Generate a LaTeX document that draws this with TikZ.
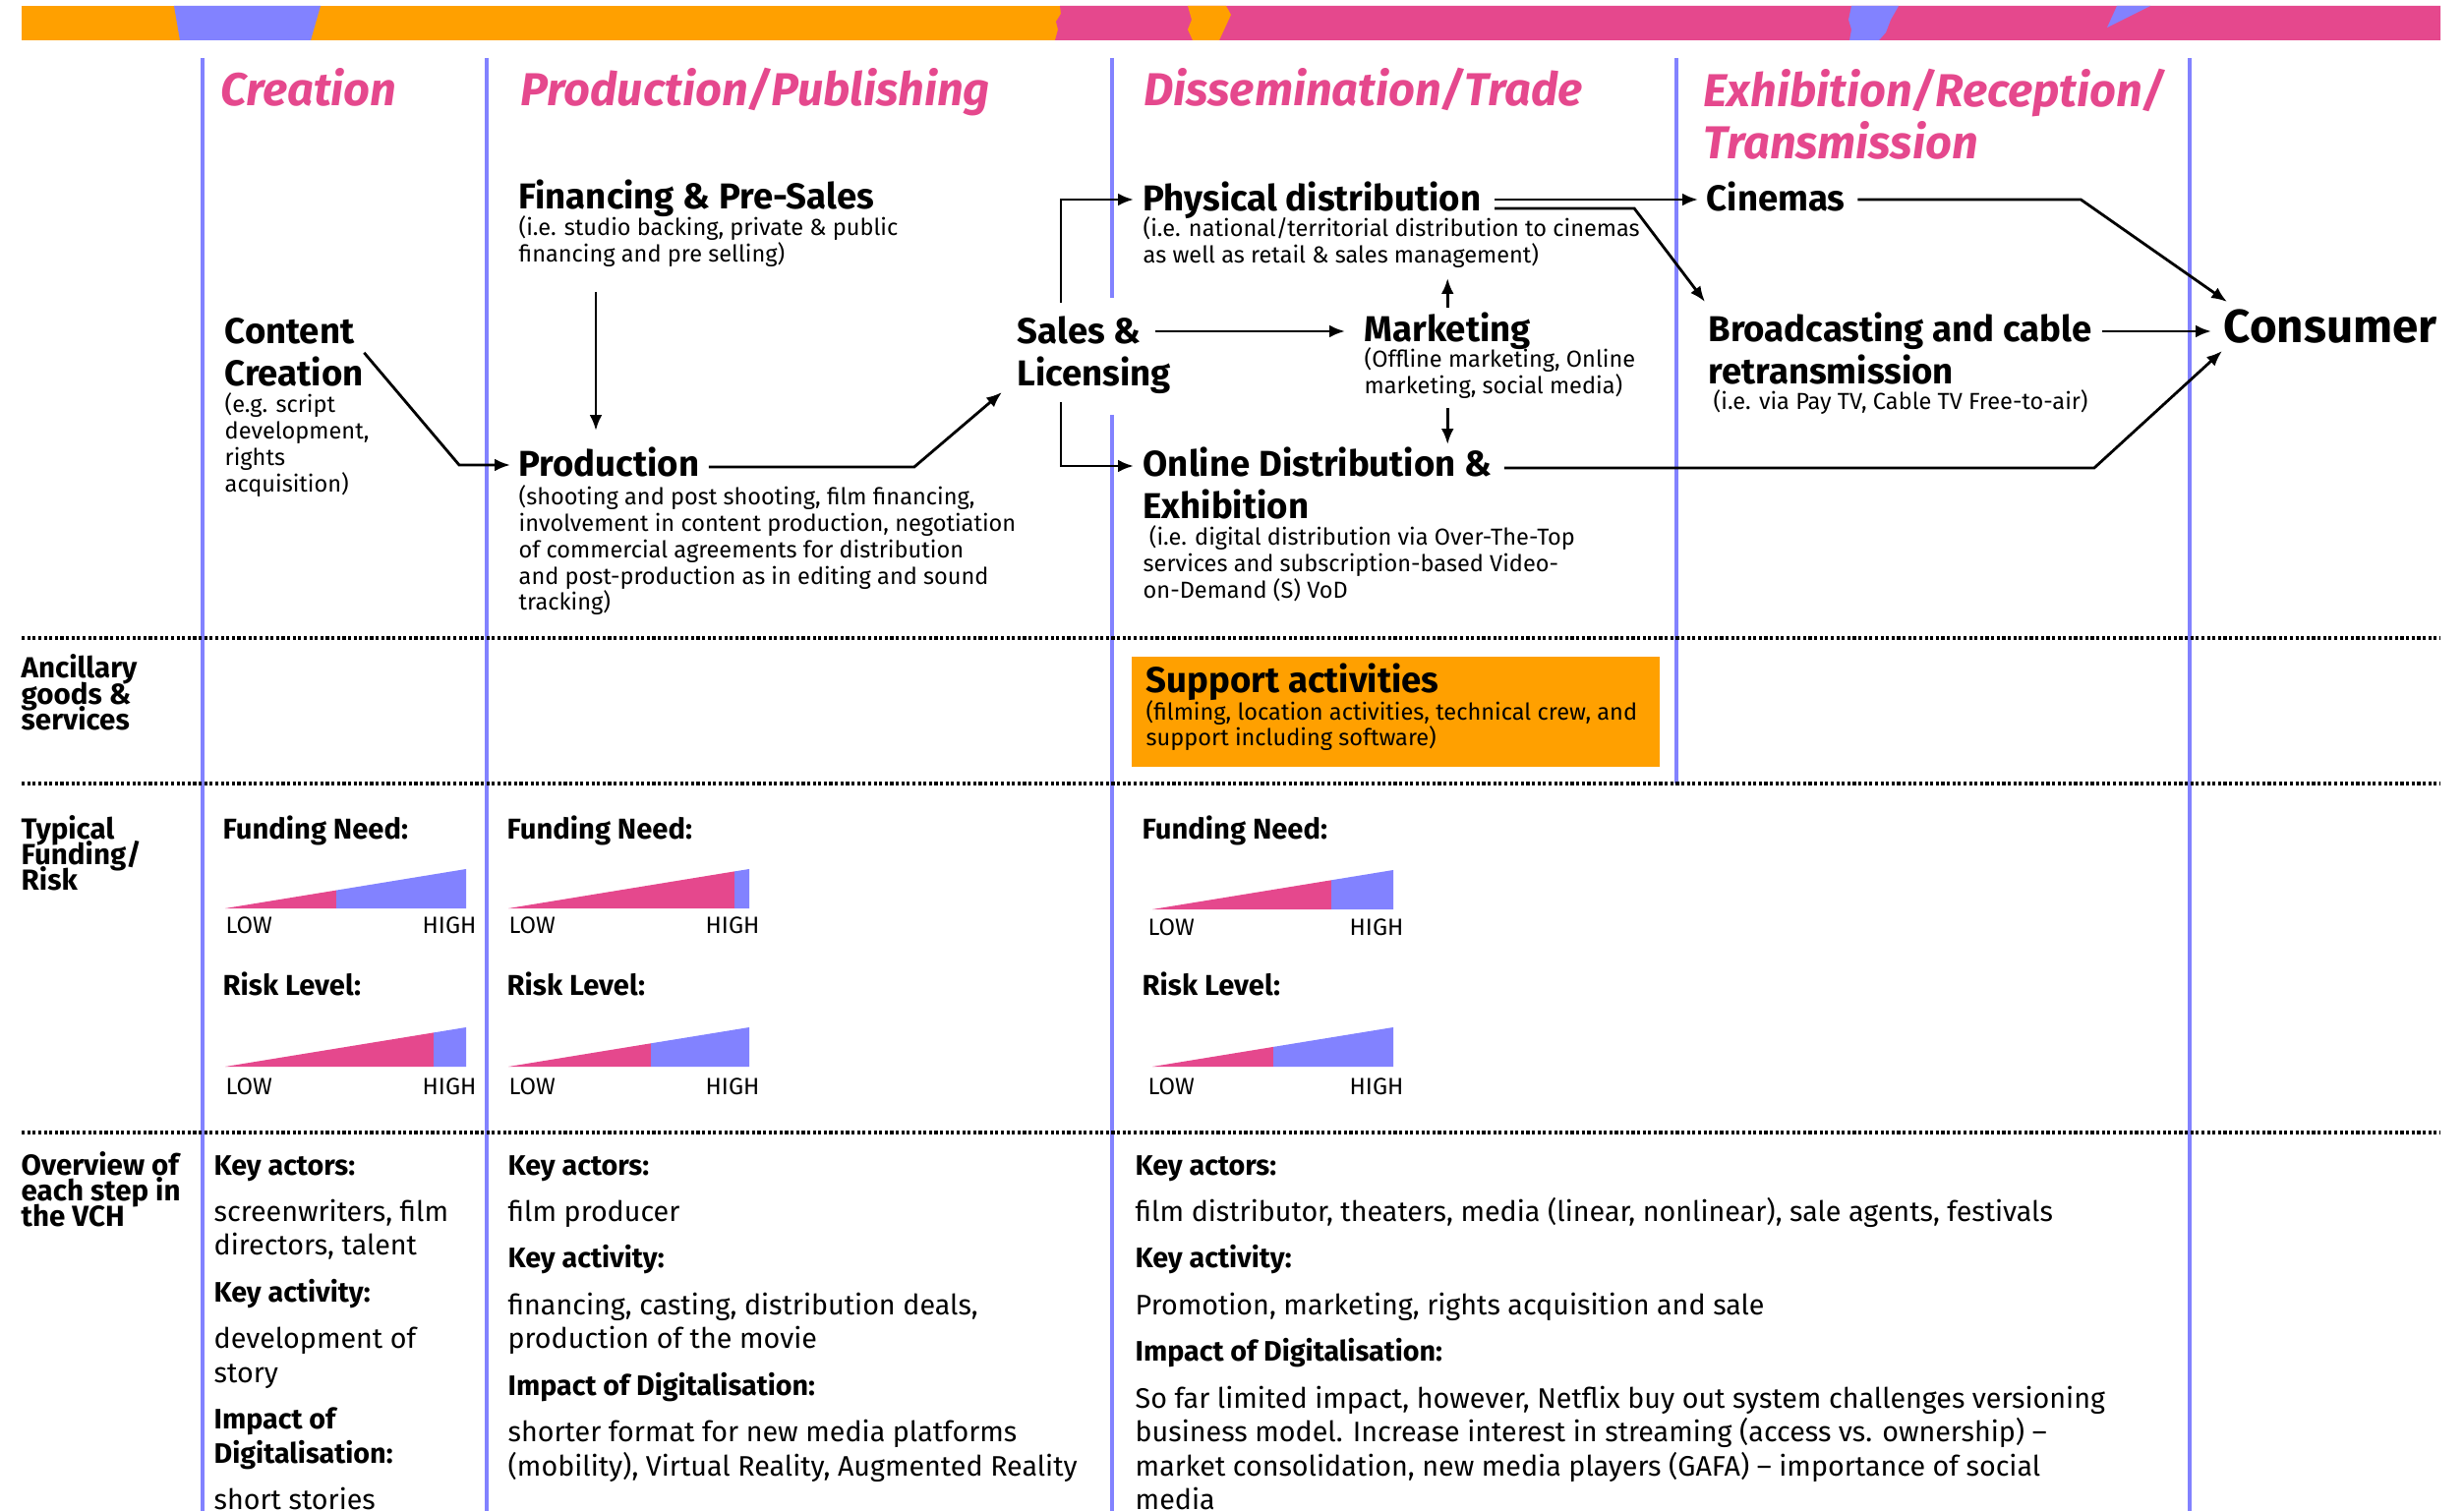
\documentclass[tikz,border=0pt]{standalone}
\usepackage{fontspec}
\setmainfont{Fira Sans}
\usepackage{tikz}
\usetikzlibrary{arrows.meta, calc}

\definecolor{vchpink}{RGB}{229,72,141}
\definecolor{vchblue}{RGB}{130,130,255}
\definecolor{vchorange}{RGB}{255,160,0}

% lines of a block, baseline on the first line
\newcommand{\lines}[1]{\vtop{\lineskiplimit=-\maxdimen\def\\{\cr}%
  \def\nextblock{\cr\noalign{\vskip3.7pt}}\halign{##\hfil\cr#1\crcr}}}

\begin{document}
\begin{tikzpicture}[x=0.01cm, y=-0.01cm,
  every node/.style={inner sep=0pt, anchor=base west},
  stagehead/.style={text=vchpink, font=\fontsize{13.35}{14.8}\selectfont\bfseries\itshape},
  steptitle/.style={font=\fontsize{10.4}{12.2}\selectfont\bfseries},
  stepnote/.style={font=\fontsize{6.7}{7.6}\selectfont},
  rowhead/.style={font=\fontsize{8.4}{7.5}\selectfont\bfseries},
  gaugehead/.style={font=\fontsize{8.3}{9}\selectfont\bfseries},
  gaugetick/.style={font=\fontsize{6.8}{8}\selectfont},
  overview/.style={font=\fontsize{8.15}{9.8}\selectfont},
  divider/.style={vchblue, line width=1.3pt},
  rowsep/.style={line width=1pt, dash pattern=on 0.9pt off 0.7pt},
  flowarrow/.style={-{Latex[length=4.5pt,width=3.6pt]}, line width=0.8pt},
]
  \useasboundingbox (0,0) rectangle (2506,1537);

  % colour band
  \fill[vchorange] (22,6) rectangle (2482,41);
  \fill[vchblue] (177,6) -- (326,6) -- (316,41) -- (183,41) -- cycle;
  \fill[vchpink] (1078,6) -- (2482,6) -- (2482,41) -- (1073,41) -- (1076,30) -- (1074,22) -- (1079,14) -- cycle;
  \fill[vchorange] (1208,6) -- (1247,6) -- (1252,15) -- (1246,28) -- (1240,41) -- (1213,41) -- (1208,30) -- (1212,20) -- cycle;
  \fill[vchblue] (1883,6) -- (1931,6) -- (1923,20) -- (1918,33) -- (1911,41) -- (1881,41) -- (1883,30) -- (1880,20) -- cycle;
  \fill[vchblue] (2153,6) -- (2187,6) -- (2143,28) -- cycle;

  % column and row rules
  \draw[divider] (206,59) -- (206,1537);
  \draw[divider] (495,59) -- (495,1537);
  \draw[divider] (1131,59) -- (1131,303);
  \draw[divider] (1131,422) -- (1131,1537);
  \draw[divider] (1705,59) -- (1705,797);
  \draw[divider] (2227,59) -- (2227,1537);
  \draw[rowsep] (22,649) -- (2482,649);
  \draw[rowsep] (22,797) -- (2482,797);
  \draw[rowsep] (22,1152) -- (2482,1152);

  % stages
  \node[stagehead] (hcre) at (224,108) {Creation};
  \node[stagehead] (hprod) at (529,108) {Production/Publishing};
  \node[stagehead] (hdiss) at (1163,108) {Dissemination/Trade};
  \node[stagehead] (hexh) at (1732,109) {\lines{Exhibition/Reception/\\Transmission}};

  % value chain
  \node[steptitle] (cc) at (228,350) {\lines{Content\\Creation}};
  \node[stepnote] (ccsub) at ($(cc.base west)+(0,70)$) {\lines{(e.g. script\\development,\\rights\\acquisition)}};
  \node[steptitle] (fin) at (527,213) {Financing \& Pre-Sales};
  \node[stepnote] (finsub) at ($(fin.base west)+(0,27)$) {\lines{(i.e. studio backing, private \& public\\financing and pre selling)}};
  \node[steptitle] (prod) at (527,485) {Production};
  \node[stepnote] (prodsub) at ($(prod.base west)+(0,29)$) {\lines{(shooting and post shooting, film financing,\\involvement in content production, negotiation\\of commercial agreements for distribution\\and post-production as in editing and sound\\tracking)}};
  \node[steptitle] (sales) at (1034,350) {\lines{Sales \&\\Licensing}};
  \node[steptitle] (phys) at (1162,215) {Physical distribution};
  \node[stepnote] (physsub) at ($(phys.base west)+(0,26)$) {\lines{(i.e. national/territorial distribution to cinemas\\as well as retail \& sales management)}};
  \node[steptitle] (mkt) at (1387,348) {Marketing};
  \node[stepnote] (mktsub) at ($(mkt.base west)+(0,26)$) {\lines{(Offline marketing, Online\\marketing, social media)}};
  \node[steptitle] (online) at (1162,485) {\lines{Online Distribution \&\\Exhibition}};
  \node[stepnote] (onlinesub) at ($(online.base west)+(0,70)$) {\lines{\ (i.e. digital distribution via Over-The-Top\\services and subscription-based Video-\\on-Demand (S) VoD}};
  \node[steptitle] (cin) at (1735,215) {Cinemas};
  \node[steptitle] (bro) at (1737,348) {\lines{Broadcasting and cable\\retransmission}};
  \node[stepnote] (brosub) at ($(bro.base west)+(5,69)$) {(i.e. via Pay TV, Cable TV Free-to-air)};
  \node[steptitle, font=\fontsize{13.5}{14}\selectfont\bfseries] (cons) at (2261,349) {Consumer};

  \draw[flowarrow] (cc.east) -- ($(prod.base west)+(-60,-12)$) -- ($(prod.base west)+(-8,-12)$);
  \draw[flowarrow] ($(finsub.base west)+(79,57)$) -- ($(prod.base west)+(79,-47)$);
  \draw[flowarrow] ($(prod.base east)+(9,-10)$) -- ($(prod.base east)+(218,-10)$) -- ($(sales.base west)+(-15,49)$);
  \draw[flowarrow] ($(sales.base west)+(45,-42)$) |- ($(phys.base west)+(-9,-12)$);
  \draw[flowarrow] ($(sales.base west)+(45,59)$) |- ($(online.base west)+(-9,-11)$);
  \draw[flowarrow] ($(sales.base east)+(-17,-13)$) -- ($(mkt.base west)+(-19,-11)$);
  \draw[flowarrow] ($(mkt.base)+(0,-35)$) -- ($(mkt.base |- physsub.base)+(0,42)$);
  \draw[flowarrow] ($(mkt.base |- mktsub.base)+(0,41)$) -- ($(mkt.base |- online.base)+(0,-33)$);
  \draw[flowarrow] ($(phys.base east)+(13,-12)$) -- ($(cin.base west)+(-8,-12)$);
  \draw[flowarrow] ($(phys.base east)+(13,-3)$) -- ($(phys.base east)+(155,-3)$) -- ($(bro.base west)+(-3,-41)$);
  \draw[flowarrow] ($(online.base east)+(12,-9)$) -- ($(online.base east)+(612,-9)$) -- ($(cons.base west)+(-1,8)$);
  \draw[flowarrow] ($(cin.base east)+(12,-12)$) -- ($(cin.base east)+(239,-12)$) -- ($(cons.base west)+(4,-42)$);
  \draw[flowarrow] ($(bro.base east)+(10,-11)$) -- ($(cons.base west)+(-12,-12)$);

  % ancillary goods
  \node[rowhead] (rowanc) at (21,690) {\lines{Ancillary\\goods \&\\services}};
  \fill[vchorange] (1151,668) rectangle (1688,780);
  \node[steptitle] (supp) at (1165,705) {Support activities};
  \node[stepnote] (suppsub) at ($(supp.base west)+(0,27)$) {\lines{(filming, location activities, technical crew, and\\support including software)}};

  % funding and risk
  \node[rowhead] (rowfund) at (21,853) {\lines{Typical\\Funding/\\Risk}};
  \node[gaugehead] (fund1) at (226,853) {Funding Need:};
  \begin{scope}[shift={(229,924)}]
    \fill[vchpink] (0,0) -- (113,0) -- (113,-18.4) -- cycle;
    \fill[vchblue] (113,0) -- (245,0) -- (245,-40) -- (113,-18.4) -- cycle;
  \end{scope}
  \node[gaugetick] (fund1lo) at (229,949) {LOW};
  \node[gaugetick] (fund1hi) at (429,949) {HIGH};
  \node[gaugehead] (risk1) at (226,1012) {Risk Level:};
  \begin{scope}[shift={(229,1085)}]
    \fill[vchpink] (0,0) -- (212,0) -- (212,-34.6) -- cycle;
    \fill[vchblue] (212,0) -- (245,0) -- (245,-40) -- (212,-34.6) -- cycle;
  \end{scope}
  \node[gaugetick] (risk1lo) at (229,1113) {LOW};
  \node[gaugetick] (risk1hi) at (429,1113) {HIGH};

  \node[gaugehead] (fund2) at (515,853) {Funding Need:};
  \begin{scope}[shift={(517,924)}]
    \fill[vchpink] (0,0) -- (230,0) -- (230,-37.6) -- cycle;
    \fill[vchblue] (230,0) -- (245,0) -- (245,-40) -- (230,-37.6) -- cycle;
  \end{scope}
  \node[gaugetick] (fund2lo) at (517,949) {LOW};
  \node[gaugetick] (fund2hi) at (717,949) {HIGH};
  \node[gaugehead] (risk2) at (515,1012) {Risk Level:};
  \begin{scope}[shift={(517,1085)}]
    \fill[vchpink] (0,0) -- (145,0) -- (145,-23.7) -- cycle;
    \fill[vchblue] (145,0) -- (245,0) -- (245,-40) -- (145,-23.7) -- cycle;
  \end{scope}
  \node[gaugetick] (risk2lo) at (517,1113) {LOW};
  \node[gaugetick] (risk2hi) at (717,1113) {HIGH};

  \node[gaugehead] (fund3) at (1161,853) {Funding Need:};
  \begin{scope}[shift={(1172,925)}]
    \fill[vchpink] (0,0) -- (182,0) -- (182,-29.7) -- cycle;
    \fill[vchblue] (182,0) -- (245,0) -- (245,-40) -- (182,-29.7) -- cycle;
  \end{scope}
  \node[gaugetick] (fund3lo) at (1167,951) {LOW};
  \node[gaugetick] (fund3hi) at (1372,951) {HIGH};
  \node[gaugehead] (risk3) at (1161,1012) {Risk Level:};
  \begin{scope}[shift={(1172,1085)}]
    \fill[vchpink] (0,0) -- (123,0) -- (123,-20.1) -- cycle;
    \fill[vchblue] (123,0) -- (245,0) -- (245,-40) -- (123,-20.1) -- cycle;
  \end{scope}
  \node[gaugetick] (risk3lo) at (1167,1113) {LOW};
  \node[gaugetick] (risk3hi) at (1372,1113) {HIGH};

  % overview
  \node[rowhead] (rowov) at (21,1195) {\lines{Overview of\\each step in\\the VCH}};
  \node[overview] (ov1) at (217,1195) {\lines{\textbf{Key actors:}\nextblock
    screenwriters, film\\directors, talent\nextblock
    \textbf{Key activity:}\nextblock
    development of\\story\nextblock
    \textbf{Impact of}\\\textbf{Digitalisation:}\nextblock
    short stories}};
  \node[overview] (ov2) at (516,1195) {\lines{\textbf{Key actors:}\nextblock
    film producer\nextblock
    \textbf{Key activity:}\nextblock
    financing, casting, distribution deals,\\production of the movie\nextblock
    \textbf{Impact of Digitalisation:}\nextblock
    shorter format for new media platforms\\(mobility), Virtual Reality, Augmented Reality}};
  \node[overview] (ov3) at (1154,1195) {\lines{\textbf{Key actors:}\nextblock
    film distributor, theaters, media (linear, nonlinear), sale agents, festivals\nextblock
    \textbf{Key activity:}\nextblock
    Promotion, marketing, rights acquisition and sale\nextblock
    \textbf{Impact of Digitalisation:}\nextblock
    So far limited impact, however, Netflix buy out system challenges versioning\\business model. Increase interest in streaming (access vs. ownership) --\\market consolidation, new media players (GAFA) -- importance of social\\media}};
\end{tikzpicture}
\end{document}
